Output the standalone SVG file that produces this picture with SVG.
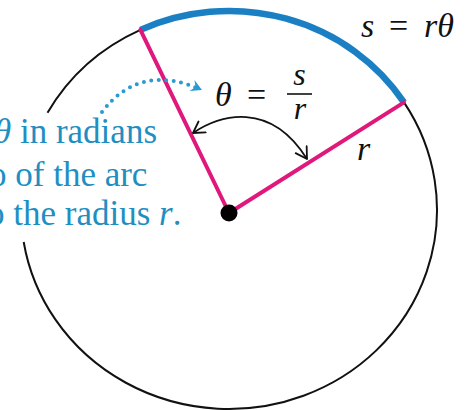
<svg xmlns="http://www.w3.org/2000/svg" width="470" height="410" viewBox="0 0 470 410">
<style>
.circ{fill:none;stroke:#111;stroke-width:2}
.arcs{fill:none;stroke:#1b7fc4;stroke-width:6.5}
.rad{stroke:#e0187c;stroke-width:4;stroke-linecap:round}
.math{font-family:"Liberation Serif","Times New Roman",serif;font-size:34px;fill:#111}
.frac{font-family:"Liberation Serif","Times New Roman",serif;font-size:32px;fill:#111;font-style:italic}
.it{font-style:italic}
.note{font-family:"Liberation Serif","Times New Roman",serif;font-size:35px;fill:#1f8fc2}
</style>
<defs>
<marker id="chev" viewBox="-12 -8 14 16" markerWidth="14" markerHeight="16" refX="0" refY="0" orient="auto-start-reverse" markerUnits="userSpaceOnUse">
<path d="M-11,-6.5 L0,0 L-11,6.5" fill="none" stroke="#111" stroke-width="1.8" stroke-linecap="round" stroke-linejoin="round"/>
</marker>
<marker id="tri" viewBox="-12 -7 13 14" markerWidth="13" markerHeight="14" refX="0" refY="0" orient="auto" markerUnits="userSpaceOnUse">
<path d="M-11,-6 L0,0 L-11,6 L-7,0 Z" fill="#2a9ad0"/>
</marker>
</defs>
<g id="circle">
<path class="circ" d="M47.5,112.8 A208,199 0 0,1 140.4,29.9"/>
<path class="circ" d="M404,102.4 A208,199 0 1,1 23.7,242"/>
</g>
<g id="arc-s">
<path class="arcs" d="M140.4,29.9 A208,199 0 0,1 404,102.4"/>
</g>
<g id="radii">
<line class="rad" x1="229" y1="213" x2="140.4" y2="29.9"/>
<line class="rad" x1="229" y1="213" x2="404" y2="102.4"/>
</g>
<g id="center">
<circle cx="229" cy="213" r="8.5" fill="#000"/>
</g>
<g id="connectors">
<path d="M193,133 C220,115 270,100 307,159" fill="none" stroke="#111" stroke-width="1.8" marker-start="url(#chev)" marker-end="url(#chev)"/>
<path d="M102,112 Q140,62 202,90" fill="none" stroke="#2a9ad0" stroke-width="4" stroke-linecap="round" stroke-dasharray="0 7.5" marker-end="url(#tri)"/>
</g>
<g id="label-s">
<text class="math" y="37"><tspan class="it" x="361">s</tspan><tspan x="389">=</tspan><tspan class="it" x="424">rθ</tspan></text>
</g>
<g id="label-theta">
<text class="math" y="106"><tspan class="it" x="215">θ</tspan><tspan x="247">=</tspan></text>
<text class="frac" x="299.5" y="85" text-anchor="middle">s</text>
<line x1="287" y1="94" x2="312" y2="94" stroke="#111" stroke-width="1.6"/>
<text class="frac" x="300" y="119" text-anchor="middle">r</text>
</g>
<g id="label-r">
<text class="math it" x="357" y="160">r</text>
</g>
<g id="note">
<text class="note" x="-6" y="143"><tspan class="it">θ</tspan> in radians</text>
<text class="note" x="-11" y="186">o of the arc</text>
<text class="note" x="-13" y="225">o the radius <tspan class="it">r</tspan>.</text>
</g>
</svg>
